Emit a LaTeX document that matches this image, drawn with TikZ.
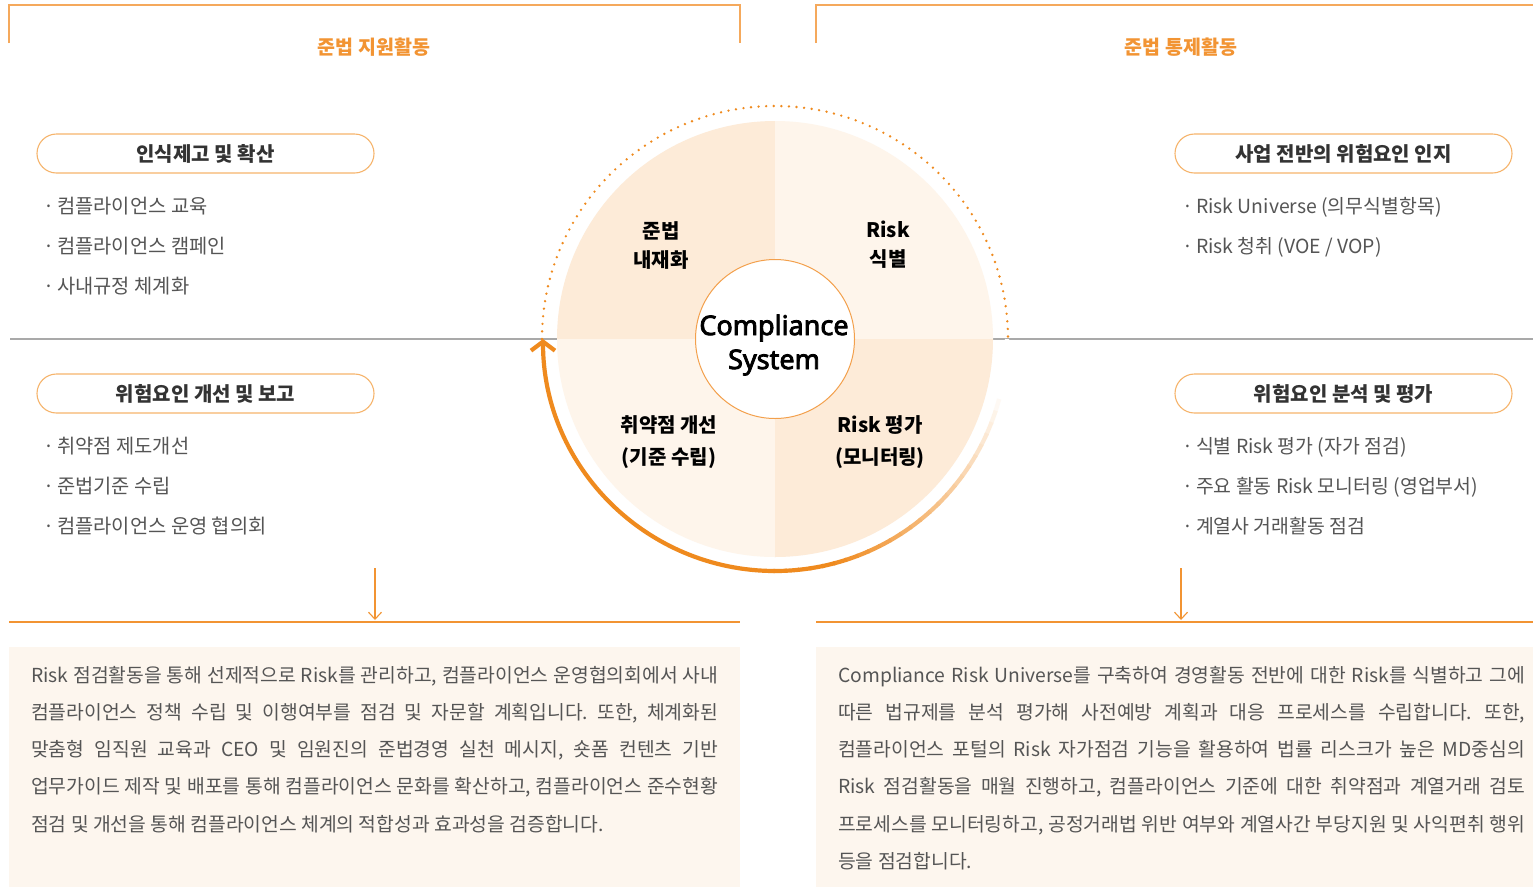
\documentclass[tikz,border=0pt]{standalone}
\usepackage{fontspec}
\setmainfont{Noto Sans CJK KR}
\newfontfamily\kr{Noto Sans CJK KR}
\newfontfamily\lat{Noto Sans}[FakeBold=3]
\usetikzlibrary{arrows.meta}
\definecolor{arcor}{HTML}{EF8A1E}
\definecolor{hdor}{HTML}{F29433}
\definecolor{pillor}{HTML}{F6B46C}
\definecolor{qdark}{HTML}{FDEBD8}
\definecolor{qlight}{HTML}{FEF5EB}
\definecolor{boxfill}{HTML}{FDF6EE}
\definecolor{txtgray}{HTML}{555555}
\definecolor{txtdark}{HTML}{333333}
\definecolor{linegray}{HTML}{A9A9A9}
\definecolor{brk}{HTML}{F5A95C}
\definecolor{ringor}{HTML}{F3A04C}
\frenchspacing
\begin{document}
\begin{tikzpicture}[x=1pt,y=1pt,
  header/.style={font=\kr\bfseries\fontsize{19.5}{22}\selectfont, text=hdor, inner sep=0},
  pill/.style={draw=pillor, line width=1.1pt, rounded corners=19.5pt, minimum width=337pt, minimum height=39pt, font=\kr\bfseries\fontsize{20}{24}\selectfont, text=txtdark, inner sep=0},
  item/.style={anchor=base west, font=\kr\fontsize{19.8}{24}\selectfont, text=txtgray, inner sep=0},
  itemr/.style={item, font=\kr\fontsize{19.4}{24}\selectfont},
  bodyline/.style={anchor=base west, font=\kr\fontsize{19.3}{24}\selectfont, text=txtgray, inner sep=0},
  qlabel/.style={font=\kr\bfseries\fontsize{20}{29}\selectfont, text=black, align=center, inner sep=0},
  bracket/.style={draw=brk, line width=1.3pt},
  sepline/.style={draw=hdor, line width=1.6pt},
  downarr/.style={draw=hdor, line width=1.1pt, -{Straight Barb[length=7pt,width=13pt]}},
  dotarc/.style={draw=arcor, line width=2.6pt, line cap=round, dash pattern=on 0pt off 7.6pt},
]
\useasboundingbox (0,0) rectangle (1533,-887);
\fill[white] (0,0) rectangle (1533,-887);

% top brackets
\draw[bracket] (9,-43) -- (9,-5) -- (740,-5) -- (740,-43);
\draw[bracket] (816,-43) -- (816,-5) -- (1533,-5);
\node[header] (h1) at (374,-47) {준법 지원활동};
\node[header] (h2) at (1181,-47) {준법 통제활동};

% gray middle line
\draw[linegray, line width=1.3pt] (10,-339) -- (1533,-339);

% circle
\coordinate (C) at (775,-339);
\fill[qdark] (C) -- ([shift={(90:218pt)}]C) arc[start angle=90,end angle=180,radius=218pt] -- cycle;
\fill[qlight] (C) -- ([shift={(0:218pt)}]C) arc[start angle=0,end angle=90,radius=218pt] -- cycle;
\fill[qlight] (C) -- ([shift={(180:218pt)}]C) arc[start angle=180,end angle=270,radius=218pt] -- cycle;
\fill[qdark] (C) -- ([shift={(270:218pt)}]C) arc[start angle=270,end angle=360,radius=218pt] -- cycle;

% dotted arc
\draw[dotarc] ([shift={(180:233pt)}]C) arc[start angle=180,end angle=0,radius=233pt];

% gradient solid arc
\foreach \a in {0,-3,...,-87}{
  \pgfmathsetmacro\p{max(0,min(100,(-\a-12)*100/62))}
  \draw[line width=4.2pt, draw=arcor!\p!white] ([shift={(\a:232pt)}]C) arc[start angle=\a,end angle=\a-3.4,radius=232pt];
}
\draw[line width=4.2pt, draw=arcor, -{Straight Barb[length=9pt,width=24pt]}] ([shift={(-90:232pt)}]C) arc[start angle=-90,end angle=-180,radius=232pt];

% inner circle
\node[circle, fill=white, draw=ringor, line width=1pt, minimum size=159pt, inner sep=0] (core) at (C) {};
\node[font=\lat\fontsize{27}{34}\selectfont, align=center, inner sep=0] (coretxt) at (774,-345) {Compliance\\System};

\node[qlabel] (q1) at (661,-246) {준법\\내재화};
\node[qlabel] (q2) at (888,-245) {Risk\\식별};
\node[qlabel, font=\kr\bfseries\fontsize{20}{32}\selectfont] (q3) at (669,-442) {취약점 개선\\(기준 수립)};
\node[qlabel, font=\kr\bfseries\fontsize{20}{32}\selectfont] (q4) at (880,-442) {Risk 평가\\(모니터링)};

% pills
\node[pill] (p1) at (205.5,-153.5) {인식제고 및 확산};
\node[pill] (p2) at (205.5,-393.5) {위험요인 개선 및 보고};
\node[pill] (p3) at (1343.5,-153.5) {사업 전반의 위험요인 인지};
\node[pill] (p4) at (1343.5,-393.5) {위험요인 분석 및 평가};

% items left
\node[item] (i1) at (43,-213.5) {·\kern3pt 컴플라이언스 교육};
\node[item] (i2) at (43,-253.5) {·\kern3pt 컴플라이언스 캠페인};
\node[item] (i3) at (43,-293.5) {·\kern3pt 사내규정 체계화};
\node[item] (i4) at (43,-453.5) {·\kern3pt 취약점 제도개선};
\node[item] (i5) at (43,-493.5) {·\kern3pt 준법기준 수립};
\node[item] (i6) at (43,-533.5) {·\kern3pt 컴플라이언스 운영 협의회};
% items right
\node[itemr] (j1) at (1182,-213.5) {·\kern3pt Risk Universe (의무식별항목)};
\node[itemr] (j2) at (1182,-253.5) {·\kern3pt Risk 청취 (VOE / VOP)};
\node[itemr] (j3) at (1182,-453.5) {·\kern3pt 식별 Risk 평가 (자가 점검)};
\node[itemr] (j4) at (1182,-493.5) {·\kern3pt 주요 활동 Risk 모니터링 (영업부서)};
\node[itemr] (j5) at (1182,-533.5) {·\kern3pt 계열사 거래활동 점검};

% down arrows and separators
\coordinate (d1s) at (375,-568); \coordinate (d1e) at (375,-620);
\coordinate (d2s) at (1181,-568); \coordinate (d2e) at (1181,-620);
\draw[downarr] (d1s) -- (d1e);
\draw[downarr] (d2s) -- (d2e);
\draw[sepline] (9,-622) -- (740,-622);
\draw[sepline] (816,-622) -- (1533,-622);

% text boxes
\fill[boxfill] (9,-647) rectangle (740,-887);
\fill[boxfill] (816,-647) rectangle (1533,-887);

\node[bodyline] (l1) at (31,-682) {\makebox[687pt][s]{Risk 점검활동을 통해 선제적으로 Risk를 관리하고, 컴플라이언스 운영협의회에서 사내}};
\node[bodyline] (l2) at (31,-719.3) {\makebox[687pt][s]{컴플라이언스 정책 수립 및 이행여부를 점검 및 자문할 계획입니다. 또한, 체계화된}};
\node[bodyline] (l3) at (31,-756.6) {\makebox[687pt][s]{맞춤형 임직원 교육과 CEO 및 임원진의 준법경영 실천 메시지, 숏폼 컨텐츠 기반}};
\node[bodyline] (l4) at (31,-793.9) {\makebox[687pt][s]{업무가이드 제작 및 배포를 통해 컴플라이언스 문화를 확산하고, 컴플라이언스 준수현황}};
\node[bodyline] (l5) at (31,-831.2) {점검 및 개선을 통해 컴플라이언스 체계의 적합성과 효과성을 검증합니다.};

\node[bodyline] (r1) at (838,-682) {\makebox[687pt][s]{Compliance Risk Universe를 구축하여 경영활동 전반에 대한 Risk를 식별하고 그에}};
\node[bodyline] (r2) at (838,-719.3) {\makebox[687pt][s]{따른 법규제를 분석 평가해 사전예방 계획과 대응 프로세스를 수립합니다. 또한,}};
\node[bodyline] (r3) at (838,-756.6) {\makebox[687pt][s]{컴플라이언스 포털의 Risk 자가점검 기능을 활용하여 법률 리스크가 높은 MD중심의}};
\node[bodyline] (r4) at (838,-793.9) {\makebox[687pt][s]{Risk 점검활동을 매월 진행하고, 컴플라이언스 기준에 대한 취약점과 계열거래 검토}};
\node[bodyline] (r5) at (838,-831.2) {\makebox[687pt][s]{프로세스를 모니터링하고, 공정거래법 위반 여부와 계열사간 부당지원 및 사익편취 행위}};
\node[bodyline] (r6) at (838,-868.5) {등을 점검합니다.};
\end{tikzpicture}
\end{document}
